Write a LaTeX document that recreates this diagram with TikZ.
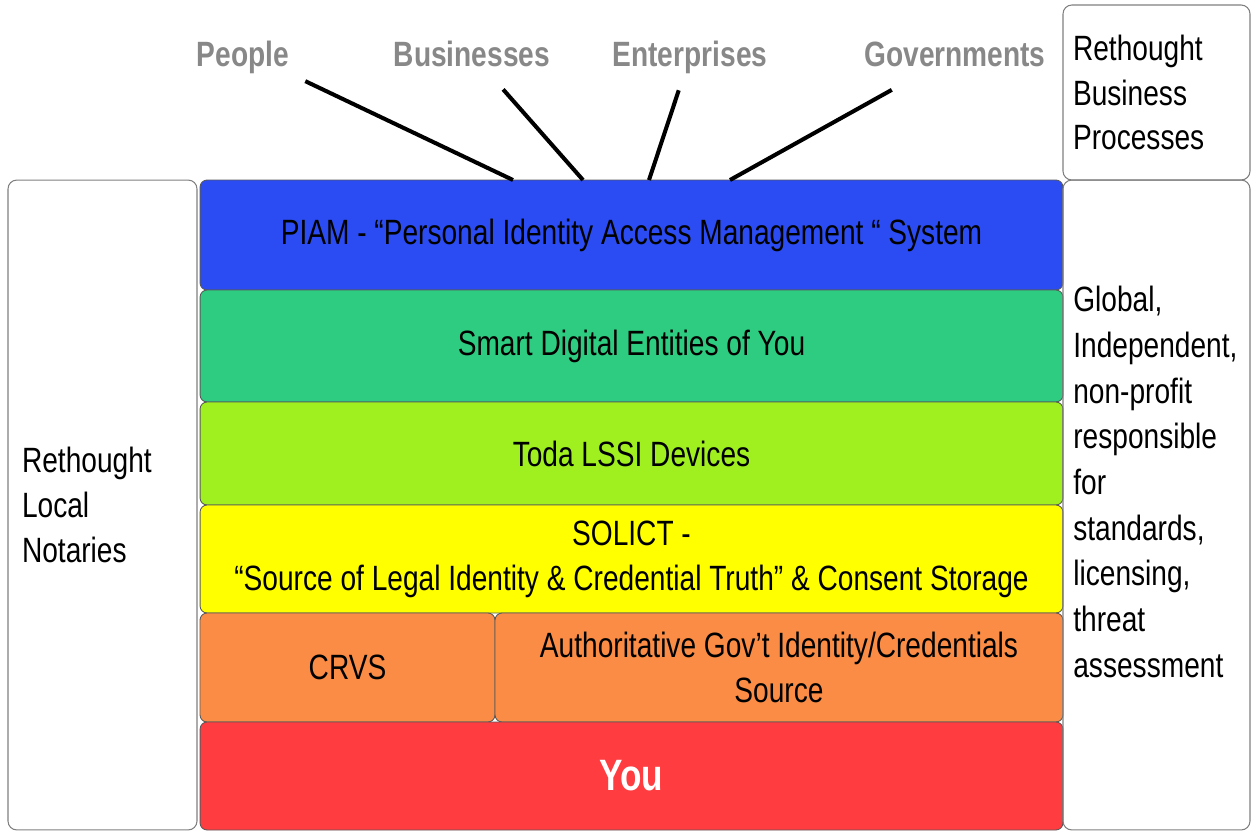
\documentclass[tikz,border=0pt]{standalone}
\usepackage{fontspec}
\setmainfont{Liberation Sans}[FakeStretch=0.8]
\usepackage{xcolor}

\definecolor{piamblue}{RGB}{43,76,243}
\definecolor{sdegreen}{RGB}{46,204,128}
\definecolor{lssilime}{RGB}{160,240,32}
\definecolor{solyellow}{RGB}{255,255,0}
\definecolor{srcorange}{RGB}{250,140,70}
\definecolor{youred}{RGB}{255,60,64}
\definecolor{actorgray}{RGB}{136,136,136}

\begin{document}
\begin{tikzpicture}[x=0.02cm,y=-0.02cm,
	layer/.style={draw=gray!70!black,line width=0.5pt,rounded corners=4pt,minimum width=17.26cm,
		align=center,inner sep=0pt,font=\fontsize{20}{25.5}\selectfont},
	sidebox/.style={draw=gray,line width=0.6pt,rounded corners=5pt,align=left,
		font=\fontsize{20}{25.5}\selectfont},
	sidetext/.style={align=left,inner sep=0pt,font=\fontsize{20}{26}\selectfont},
	actor/.style={text=actorgray,inner sep=0pt,text height=14.5pt,text depth=4pt,
		font=\fontsize{20}{24}\selectfont\bfseries},
	spoke/.style={line width=2.3pt}]
	\useasboundingbox (0,0) rectangle (1252,833);

	\node[layer,fill=piamblue,minimum height=2.2cm] (piam) at (631.5,235)
		{PIAM - “Personal Identity Access Management “ System};
	\node[layer,fill=sdegreen,minimum height=2.24cm] (entities) at (631.5,346)
		{Smart Digital Entities of You};
	\node[layer,fill=lssilime,minimum height=2.06cm] (devices) at (631.5,453.5)
		{Toda LSSI Devices};
	\node[layer,fill=solyellow,minimum height=2.16cm] (solict) at (631.5,559)
		{SOLICT -\\“Source of Legal Identity \& Credential Truth” \& Consent Storage};
	\node[layer,fill=srcorange,minimum width=5.9cm,minimum height=2.18cm] (crvs) at (347.5,667.5)
		{CRVS};
	\node[layer,fill=srcorange,minimum width=11.36cm,minimum height=2.18cm] (govsource) at (779,667.5)
		{Authoritative Gov’t Identity/Credentials\\Source};
	\node[layer,fill=youred,minimum height=2.16cm,text=white,font=\fontsize{25}{30}\selectfont\bfseries] (you) at (631.5,776)
		{You};

	\node[sidebox,minimum width=3.78cm,minimum height=13cm,text width=3.22cm,inner xsep=0.28cm] (notaries) at (102.5,505)
		{Rethought\\Local\\Notaries};
	\node[sidebox,minimum width=3.74cm,minimum height=3.5cm,text width=3.34cm,inner xsep=0.2cm] (processes) at (1156.5,92.5)
		{Rethought\\Business\\Processes};
	\node[sidebox,minimum width=3.74cm,minimum height=13cm] (standards) at (1156.5,505) {};
	\node[sidetext,anchor=west,text width=3.34cm] (standardstext) at (1073,482)
		{Global,\\Independent,\\non-profit\\responsible\\for\\standards,\\licensing,\\threat\\assessment};

	\node[actor] (people) at (243,57) {People};
	\node[actor] (businesses) at (472,57) {Businesses};
	\node[actor] (enterprises) at (690,57) {Enterprises};
	\node[actor] (governments) at (955,57) {Governments};

	\coordinate (piam-a) at (513,180);
	\coordinate (piam-b) at (583,180);
	\coordinate (piam-c) at (649,180);
	\coordinate (piam-d) at (730,180);

	\draw[spoke,shorten <=10pt] (people.south east) -- (piam-a);
	\draw[spoke,shorten <=12pt] (businesses.-44) -- (piam-b);
	\draw[spoke,shorten <=10pt] (enterprises.-109) -- (piam-c);
	\draw[spoke,shorten <=19pt] (governments.-154) -- (piam-d);
\end{tikzpicture}
\end{document}
